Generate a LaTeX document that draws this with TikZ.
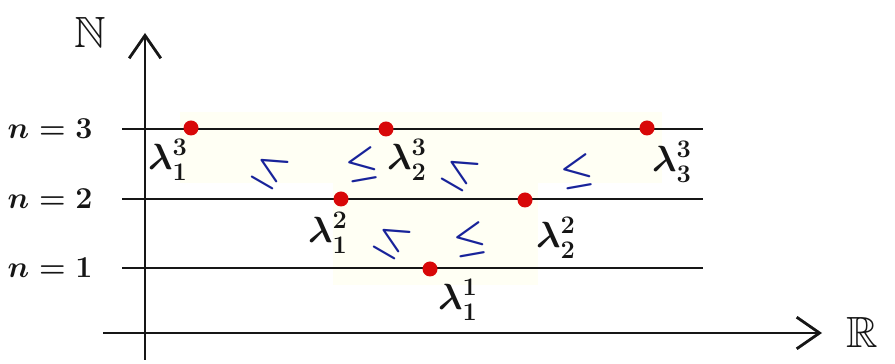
\documentclass[tikz,border=0pt]{standalone}
\usepackage{amsmath,amssymb}
\usepackage{tikz}
\usetikzlibrary{arrows.meta,positioning,calc}
\definecolor{ink}{HTML}{161616}
\definecolor{dotred}{HTML}{D80808}
\definecolor{leqblue}{HTML}{18239A}
\definecolor{paste}{HTML}{FFFFF4}

\begin{document}
\begin{tikzpicture}[x=0.02cm,y=0.02cm,
    axis/.style={ink,line width=1.6pt,-{Straight Barb[length=13pt,width=18pt,line width=1.6pt]}},
    level/.style={ink,line width=1.5pt},
    pt/.style={circle,fill=dotred,inner sep=0pt,minimum size=0.3cm},
    lab/.style={font=\LARGE\boldmath,text=ink,inner sep=1pt},
    eig/.style={font=\huge\boldmath,text=ink,inner sep=1pt},
    leqA/.style={font=\huge\boldmath,text=leqblue,rotate=-30},
    leqB/.style={font=\huge\boldmath,text=leqblue,rotate=10}]
  \useasboundingbox (0,0) rectangle (895,364);
  % pasted background of the pattern
  \fill[paste] (180,181) rectangle (662,252);
  \fill[paste] (333,79) rectangle (538,181);
  % axes
  \coordinate (ybot) at (145,4);
  \coordinate (ytop) at (145,331);
  \coordinate (xleft) at (103,31);
  \coordinate (xright) at (822,31);
  \draw[axis] (ybot) -- (ytop);
  \draw[axis] (xleft) -- (xright);
  \node[font=\Huge,text=ink] (nat) at (90,332) {$\mathbb{N}$};
  \node[font=\Huge,text=ink] (real) at (862,32) {$\mathbb{R}$};
  % levels n=1,2,3
  \foreach \n/\y in {1/96,2/165,3/235}{
    \coordinate (a\n) at (122,\y);
    \coordinate (b\n) at (703,\y);
    \draw[level] (a\n) -- (b\n);
    \node[lab] (n\n) at (50,\y) {$n=\n$};
  }
  % eigenvalues
  \node[pt] (l31) at (191,236) {};
  \node[pt] (l32) at (386,235) {};
  \node[pt] (l33) at (647,236) {};
  \node[pt] (l21) at (341,165) {};
  \node[pt] (l22) at (525,164) {};
  \node[pt] (l11) at (430,95) {};
  \node[eig] (t31) at (168,204) {$\lambda^3_1$};
  \node[eig] (t32) at (407,204) {$\lambda^3_2$};
  \node[eig] (t33) at (672,202) {$\lambda^3_3$};
  \node[eig] (t21) at (328,131) {$\lambda^2_1$};
  \node[eig] (t22) at (556,126) {$\lambda^2_2$};
  \node[eig] (t11) at (458,64) {$\lambda^1_1$};
  % interlacing
  \node[leqA] (q1) at (270,194) {$\leq$};
  \node[leqB] (q2) at (362,199) {$\leq$};
  \node[leqA] (q3) at (460,192) {$\leq$};
  \node[leqB] (q4) at (577,192) {$\leq$};
  \node[leqA] (q5) at (392,124) {$\leq$};
  \node[leqB] (q6) at (470,124) {$\leq$};
\end{tikzpicture}
\end{document}
